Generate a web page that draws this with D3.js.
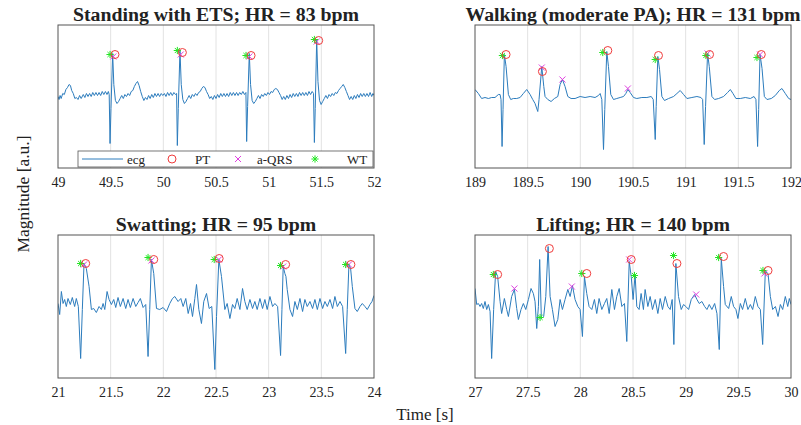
<!DOCTYPE html>
<html>
<head>
<meta charset="utf-8">
<script src="https://cdn.jsdelivr.net/npm/d3@7"></script>
<style>
  body { margin: 0; background: #fff; }
  text { font-family: "Liberation Serif", "Times New Roman", serif; fill: #222; }
</style>
</head>
<body>
<div id="chart"></div>
<script>
// ecg traces, [time s, magnitude a.u.]
const ecgStanding = [
  [49.000,0],[49.010,-3],[49.020,1],[49.030,-2],[49.045,3],[49.060,2],[49.075,7],[49.090,9],[49.105,12],[49.118,11],[49.130,6],[49.145,3],[49.160,-2],[49.175,-1],[49.190,-3],[49.205,1],[49.220,-2],[49.240,2],[49.255,-1],[49.270,3],[49.285,0],[49.300,3],[49.315,0],[49.330,4],[49.345,1],[49.360,4],[49.375,1],[49.390,4],[49.405,1],[49.420,5],[49.435,2],[49.450,5],[49.465,2],[49.478,5],[49.486,2],[49.494,-47],[49.503,-12],[49.519,43],[49.530,12],[49.545,-4],[49.560,-7],[49.575,-5],
  [49.590,-2],[49.605,1],[49.620,-2],[49.635,2],[49.650,0],[49.665,3],[49.680,1],[49.695,5],[49.710,6],[49.725,10],[49.740,13],[49.755,15],[49.770,11],[49.785,5],[49.800,0],[49.815,-4],[49.830,-1],[49.845,-3],[49.860,1],[49.875,-2],[49.890,2],[49.905,-1],[49.920,3],[49.935,0],[49.950,3],[49.965,0],[49.980,3],[49.995,1],[50.010,3],[50.025,0],[50.040,4],[50.055,1],[50.070,4],[50.085,1],[50.100,4],[50.115,2],[50.126,3],[50.133,-49],[50.142,-12],[50.158,46],[50.170,12],[50.185,-3],[50.200,-7],[50.215,-5],
  [50.230,-2],[50.245,1],[50.260,-2],[50.275,2],[50.290,0],[50.305,3],[50.320,1],[50.335,4],[50.350,5],[50.365,8],[50.380,10],[50.395,9],[50.410,5],[50.425,2],[50.440,-2],[50.455,0],[50.470,-3],[50.485,1],[50.500,-2],[50.515,2],[50.530,-1],[50.545,3],[50.560,0],[50.575,3],[50.590,0],[50.605,3],[50.620,0],[50.635,4],[50.650,1],[50.665,4],[50.680,1],[50.695,4],[50.710,1],[50.725,4],[50.740,2],[50.755,5],[50.770,2],[50.784,4],[50.791,-45],[50.800,-10],[50.816,43],[50.828,12],[50.843,-4],[50.858,-7],[50.873,-5],
  [50.888,-2],[50.903,1],[50.918,-2],[50.933,2],[50.948,0],[50.963,3],[50.978,1],[50.993,4],[51.008,2],[51.023,5],[51.038,4],[51.053,7],[51.068,8],[51.083,7],[51.098,4],[51.113,1],[51.128,-3],[51.143,0],[51.158,-3],[51.173,1],[51.188,-2],[51.203,2],[51.218,-1],[51.233,3],[51.248,0],[51.263,3],[51.278,0],[51.293,4],[51.308,1],[51.323,4],[51.338,1],[51.353,4],[51.368,1],[51.383,5],[51.398,2],[51.413,5],[51.426,3],[51.434,-46],[51.442,-12],[51.456,57],[51.468,15],[51.483,-4],[51.498,-8],[51.513,-5],
  [51.528,-2],[51.543,1],[51.558,-2],[51.573,2],[51.588,0],[51.603,3],[51.618,1],[51.633,4],[51.648,3],[51.663,6],[51.678,8],[51.693,10],[51.708,12],[51.723,9],[51.738,5],[51.753,1],[51.768,-3],[51.783,0],[51.798,-3],[51.813,1],[51.828,-2],[51.843,2],[51.858,-1],[51.873,3],[51.888,0],[51.903,3],[51.918,0],[51.933,3],[51.948,0],[51.963,4],[51.978,0],[51.990,3],[52.000,1]
];
const ptStanding = [[49.541,42],[50.181,44],[50.833,41],[51.475,56]];
const qrsStanding = [[49.525,40],[50.165,42],[50.817,40],[51.456,55]];
const wtStanding = [[49.494,42],[50.133,46],[50.785,41],[51.434,57]];

const ecgWalking = [
  [189.000,7],[189.032,3],[189.063,-2],[189.095,-1],[189.127,-2],[189.158,-1],[189.190,-1],[189.222,2],[189.238,2],[189.247,-3],[189.257,-50],[189.266,-13],[189.279,42],[189.295,30],[189.317,2],[189.339,-3],[189.364,-2],[189.396,-2],[189.428,-1],[189.459,3],[189.491,7],[189.523,2],[189.548,-3],[189.570,-7],[189.596,-15],[189.608,-3],[189.634,30],[189.653,10],[189.665,0],[189.691,-3],[189.722,-5],[189.754,-2],[189.786,0],[189.808,12],[189.830,17],[189.855,10],[189.881,0],[189.912,-2],[189.950,-2],[189.998,0],
  [190.045,-1],[190.093,0],[190.140,-1],[190.172,1],[190.188,3],[190.204,-3],[190.220,-53],[190.232,-13],[190.251,45],[190.267,30],[190.289,2],[190.315,-3],[190.346,-2],[190.378,-1],[190.410,0],[190.432,3],[190.451,7],[190.473,4],[190.505,-1],[190.536,-2],[190.584,-1],[190.632,-1],[190.673,0],[190.692,-3],[190.711,-43],[190.720,-10],[190.736,40],[190.752,27],[190.774,0],[190.799,-4],[190.838,-2],[190.885,0],[190.917,3],[190.948,6],[190.980,2],
  [191.012,-2],[191.059,-1],[191.107,0],[191.145,-1],[191.161,-3],[191.176,-48],[191.189,-10],[191.208,43],[191.224,30],[191.249,0],[191.275,-3],[191.313,-2],[191.360,0],[191.398,4],[191.424,7],[191.449,3],[191.477,-2],[191.519,-2],[191.566,-1],[191.614,-2],[191.649,0],[191.667,-3],[191.683,-50],[191.693,-13],[191.706,42],[191.725,28],[191.747,0],[191.772,-3],[191.813,-2],[191.851,1],[191.889,6],[191.914,8],[191.946,3],[191.978,-2],[192.000,-3]
];
const ptWalking = [[189.295,42],[189.640,25],[190.261,46],[190.742,41],[191.227,42],[191.718,42]];
const qrsWalking = [[189.634,29],[189.830,17],[190.451,8],[191.208,43],[191.706,42]];
const wtWalking = [[189.260,41],[190.213,44],[190.711,37],[191.192,41],[191.677,39]];

const ecgSwatting = [
  [21.000,3],[21.016,-8],[21.032,15],[21.048,3],[21.063,7],[21.079,0],[21.095,8],[21.117,2],[21.136,9],[21.158,0],[21.174,8],[21.193,0],[21.215,-52],[21.231,-3],[21.247,43],[21.269,38],[21.295,20],[21.317,-3],[21.339,-2],[21.364,-6],[21.390,0],[21.412,-3],[21.428,3],[21.444,-3],[21.466,15],[21.485,7],[21.507,2],[21.529,7],[21.548,-1],[21.570,9],[21.592,0],[21.618,8],[21.643,-2],[21.665,7],[21.687,-1],[21.713,8],[21.738,0],[21.760,4],[21.782,8],[21.808,-1],[21.833,2],[21.855,-50],[21.871,-3],[21.887,47],[21.909,33],[21.935,-2],[21.966,-3],[21.998,-1],
  [22.030,-5],[22.061,3],[22.087,8],[22.109,10],[22.140,5],[22.166,8],[22.188,0],[22.213,8],[22.236,-7],[22.258,3],[22.277,-10],[22.299,8],[22.315,22],[22.337,-3],[22.362,-17],[22.384,5],[22.410,13],[22.435,-2],[22.460,0],[22.489,-63],[22.505,-10],[22.527,47],[22.552,30],[22.584,-3],[22.606,3],[22.632,-12],[22.657,2],[22.679,-2],[22.701,8],[22.727,-3],[22.752,18],[22.774,5],[22.796,-3],[22.822,7],[22.847,-2],[22.869,5],[22.891,-3],[22.917,8],[22.942,-2],[22.964,7],[22.986,-3],
  [23.012,10],[23.037,0],[23.059,3],[23.085,0],[23.113,-49],[23.126,-3],[23.138,40],[23.154,33],[23.164,30],[23.176,17],[23.202,-3],[23.227,-10],[23.249,5],[23.272,-3],[23.297,8],[23.322,-5],[23.344,7],[23.366,0],[23.392,5],[23.417,-2],[23.439,7],[23.462,-3],[23.487,8],[23.512,-2],[23.534,5],[23.557,0],[23.582,7],[23.607,-2],[23.629,10],[23.652,0],[23.677,5],[23.702,0],[23.731,-47],[23.746,-3],[23.762,42],[23.778,38],[23.794,20],[23.819,-2],[23.841,-5],[23.867,0],[23.889,3],[23.914,0],[23.936,-3],[23.962,2],[23.981,5],[24.000,11]
];
const ptSwatting = [[21.263,43],[21.909,47],[22.530,48],[23.161,42],[23.781,42]];
const qrsSwatting = [[21.247,42],[21.887,46],[22.527,47],[23.138,40],[23.762,42]];
const wtSwatting = [[21.215,43],[21.855,49],[22.483,47],[23.113,41],[23.731,42]];

const ecgLifting = [
  [27.000,18],[27.016,2],[27.032,3],[27.048,0],[27.063,3],[27.079,-2],[27.095,5],[27.111,-3],[27.127,2],[27.143,-5],[27.158,-52],[27.177,-3],[27.196,35],[27.215,30],[27.238,5],[27.253,-7],[27.279,8],[27.301,-3],[27.317,-10],[27.348,10],[27.374,17],[27.396,-2],[27.412,-13],[27.437,-3],[27.459,3],[27.482,-3],[27.507,7],[27.532,18],[27.554,13],[27.570,5],[27.586,-22],[27.602,0],[27.614,47],[27.630,-12],[27.652,-10],[27.672,10],[27.694,60],[27.713,10],[27.735,-3],[27.760,-20],[27.786,-13],[27.808,7],[27.830,-3],[27.855,7],[27.881,17],[27.903,10],[27.925,21],[27.950,7],[27.976,0],[27.998,-3],
  [28.020,-30],[28.039,30],[28.061,13],[28.083,0],[28.109,-3],[28.134,7],[28.156,-7],[28.178,8],[28.204,-3],[28.229,3],[28.251,8],[28.274,-7],[28.299,17],[28.324,-3],[28.346,10],[28.369,18],[28.394,0],[28.419,3],[28.441,-35],[28.464,45],[28.483,30],[28.501,7],[28.520,32],[28.536,0],[28.558,-3],[28.577,13],[28.599,-3],[28.615,17],[28.641,0],[28.663,10],[28.685,-3],[28.711,7],[28.736,-7],[28.758,8],[28.780,-3],[28.806,10],[28.831,0],[28.853,-3],[28.872,7],[28.888,-38],[28.907,43],[28.932,10],[28.958,-3],[28.980,2],
  [29.002,0],[29.028,-3],[29.053,7],[29.085,12],[29.107,7],[29.129,3],[29.154,5],[29.180,0],[29.202,-3],[29.224,2],[29.249,-3],[29.275,3],[29.297,-7],[29.319,-43],[29.338,48],[29.360,20],[29.376,2],[29.408,-2],[29.433,10],[29.455,0],[29.477,-3],[29.496,-12],[29.519,3],[29.540,-3],[29.566,8],[29.591,-3],[29.614,2],[29.636,-3],[29.661,10],[29.686,0],[29.709,-3],[29.731,-38],[29.756,35],[29.782,33],[29.804,10],[29.826,-3],[29.852,0],[29.877,-10],[29.899,2],[29.921,-3],[29.946,10],[29.969,0],[29.984,8],[30.000,2]
];
const ptLifting = [[27.215,32],[27.706,58],[28.061,33],[28.483,47],[28.917,43],[29.360,50],[29.782,36]];
const qrsLifting = [[27.374,18],[27.919,20],[28.464,47],[29.100,12],[29.747,33]];
const wtLifting = [[27.174,32],[27.618,-11],[28.014,33],[28.514,31],[28.885,51],[29.313,49],[29.734,36]];

const titles = ["Standing with ETS; HR = 83 bpm", "Walking (moderate PA); HR = 131 bpm",
                "Swatting; HR = 95 bpm", "Lifting; HR = 140 bpm"];
const xStarts = [49, 189, 21, 27];
const legendLabels = ["ecg", "PT", "a-QRS", "WT"];

const panels = [
  {ecg: ecgStanding, pt: ptStanding, qrs: qrsStanding, wt: wtStanding, x: 58, y: 25},
  {ecg: ecgWalking, pt: ptWalking, qrs: qrsWalking, wt: wtWalking, x: 475, y: 25},
  {ecg: ecgSwatting, pt: ptSwatting, qrs: qrsSwatting, wt: wtSwatting, x: 58, y: 235},
  {ecg: ecgLifting, pt: ptLifting, qrs: qrsLifting, wt: wtLifting, x: 475, y: 235}
];

const W = 801, H = 425, pw = 316, ph = 143;
const lineColor = "#2c7cbd", ptColor = "#f03c3c", qrsColor = "#e040e0", wtColor = "#22e622";

const svg = d3.select("#chart").append("svg")
    .attr("width", W).attr("height", H)
    .style("background", "#fff");

const y = d3.scaleLinear().domain([-71.5, 71.5]).range([ph, 0]);

// asterisk like matlab '*'
function starPath(r) {
  const d = r * 0.707;
  return `M${-r},0L${r},0M0,${-r}L0,${r}M${-d},${-d}L${d},${d}M${-d},${d}L${d},${-d}`;
}
function crossPath(r) {
  return `M${-r},${-r}L${r},${r}M${-r},${r}L${r},${-r}`;
}

panels.forEach((p, i) => {
  const t0 = xStarts[i];
  const x = d3.scaleLinear().domain([t0, t0 + 3]).range([0, pw]);
  const ticks = d3.range(0, 7).map(k => t0 + k * 0.5);

  const g = svg.append("g").attr("transform", `translate(${p.x},${p.y})`);

  g.append("g").selectAll("line")
    .data(ticks.slice(1, -1))
    .join("line")
      .attr("x1", d => x(d)).attr("x2", d => x(d))
      .attr("y1", 0).attr("y2", ph)
      .attr("stroke", "#e2e2e2").attr("stroke-width", 1);

  const clip = "clip" + i;
  g.append("clipPath").attr("id", clip)
    .append("rect").attr("width", pw).attr("height", ph);

  const line = d3.line().x(d => x(d[0])).y(d => y(d[1]));
  g.append("path")
      .datum(p.ecg)
      .attr("clip-path", `url(#${clip})`)
      .attr("fill", "none")
      .attr("stroke", lineColor)
      .attr("stroke-width", 1)
      .attr("stroke-linejoin", "round")
      .attr("d", line);

  g.append("g").selectAll("path")
    .data(p.qrs)
    .join("path")
      .attr("transform", d => `translate(${x(d[0])},${y(d[1])})`)
      .attr("d", crossPath(3))
      .attr("stroke", qrsColor).attr("stroke-width", 1);

  g.append("g").selectAll("path")
    .data(p.wt)
    .join("path")
      .attr("transform", d => `translate(${x(d[0])},${y(d[1])})`)
      .attr("d", starPath(3.6))
      .attr("stroke", wtColor).attr("stroke-width", 1);

  g.append("g").selectAll("circle")
    .data(p.pt)
    .join("circle")
      .attr("cx", d => x(d[0])).attr("cy", d => y(d[1]))
      .attr("r", 4)
      .attr("fill", "none")
      .attr("stroke", ptColor).attr("stroke-width", 1);

  g.append("rect")
      .attr("width", pw).attr("height", ph)
      .attr("fill", "none")
      .attr("stroke", "#555").attr("stroke-width", 1);

  const ax = g.append("g")
      .attr("transform", `translate(0,${ph})`)
      .call(d3.axisBottom(x).tickValues(ticks).tickSize(0).tickPadding(9).tickFormat(d3.format("")));
  ax.select(".domain").remove();
  ax.selectAll("text")
      .style("font-family", "'Liberation Serif', serif")
      .style("font-size", "14px")
      .attr("fill", "#222");

  g.append("text")
      .attr("x", pw / 2).attr("y", -4)
      .attr("text-anchor", "middle")
      .style("font-size", "19.8px")
      .style("font-weight", "bold")
      .attr("fill", "#111")
      .text(titles[i]);

  if (i === 0) {
    const lg = g.append("g").attr("transform", `translate(20,${ph - 17})`);
    lg.append("rect")
        .attr("width", 295).attr("height", 16)
        .attr("fill", "#fff").attr("stroke", "#555").attr("stroke-width", 0.8);
    const cy = 8;
    lg.append("line").attr("x1", 4).attr("x2", 45).attr("y1", cy).attr("y2", cy)
        .attr("stroke", lineColor).attr("stroke-width", 1);
    lg.append("circle").attr("cx", 94).attr("cy", cy).attr("r", 4)
        .attr("fill", "none").attr("stroke", ptColor);
    lg.append("path").attr("transform", `translate(160,${cy})`).attr("d", crossPath(3))
        .attr("stroke", qrsColor);
    lg.append("path").attr("transform", `translate(237,${cy})`).attr("d", starPath(3.6))
        .attr("stroke", wtColor);
    lg.selectAll("text.lab")
      .data(legendLabels)
      .join("text")
        .attr("class", "lab")
        .attr("x", (d, k) => [49, 117, 179, 269][k])
        .attr("y", cy + 4.5)
        .style("font-size", "13px")
        .text(d => d);
  }
});

svg.append("text")
    .attr("x", 425).attr("y", 420)
    .attr("text-anchor", "middle")
    .style("font-size", "17px")
    .text("Time [s]");

svg.append("text")
    .attr("transform", "translate(29,194) rotate(-90)")
    .attr("text-anchor", "middle")
    .style("font-size", "17.5px")
    .text("Magnitude [a.u.]");
</script>
</body>
</html>
